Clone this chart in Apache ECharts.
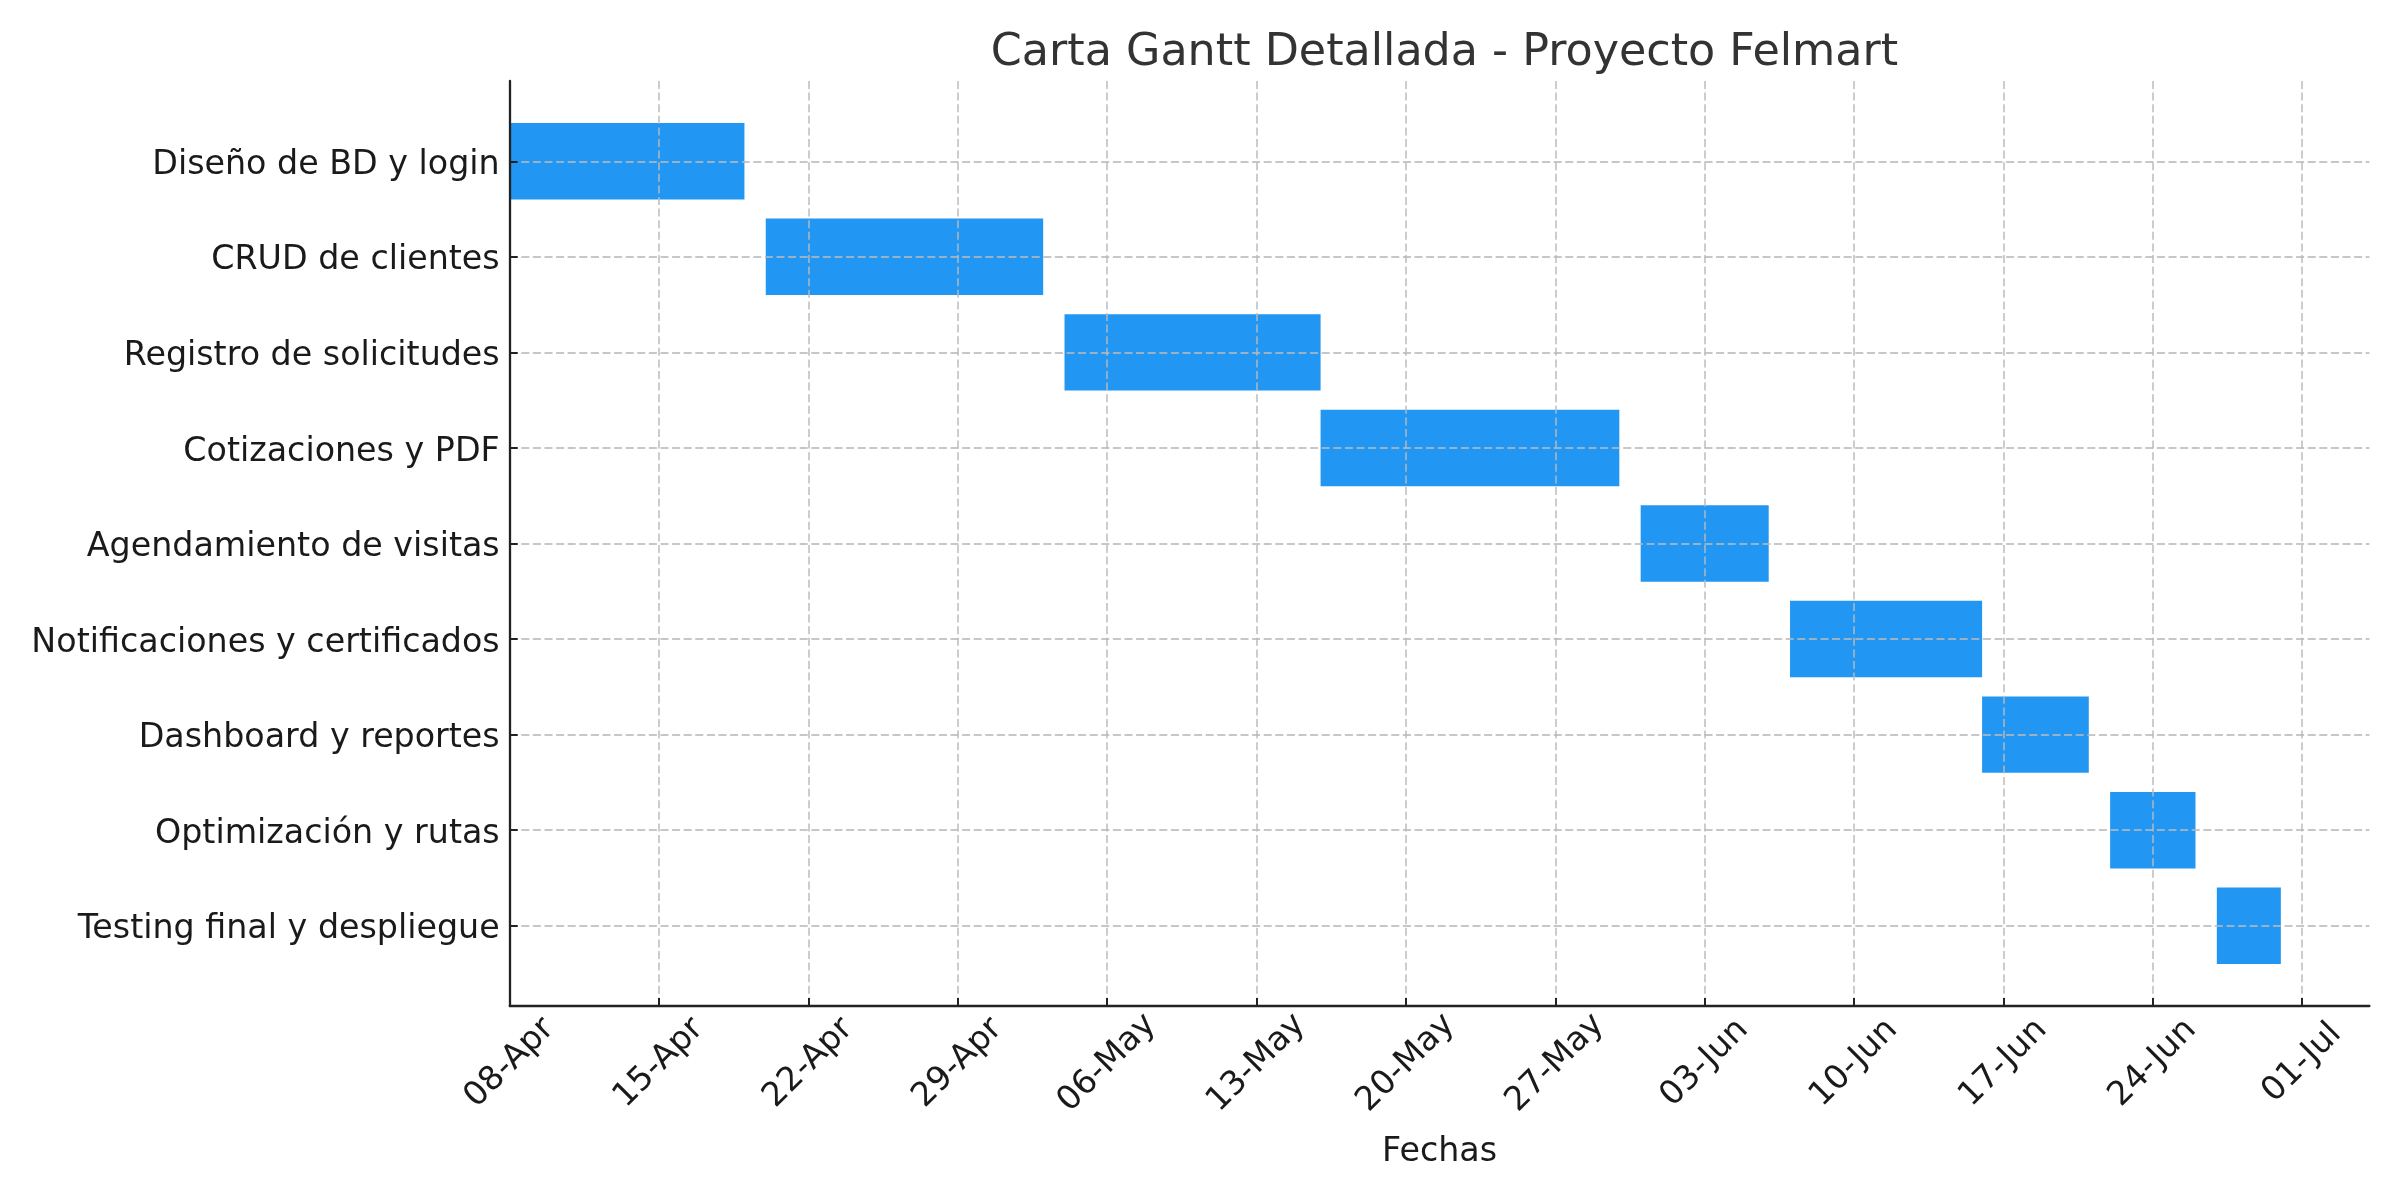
<!DOCTYPE html>
<html>
<head>
<meta charset="utf-8">
<script src="https://cdn.jsdelivr.net/npm/echarts@6/dist/echarts.min.js"></script>
<style>
html,body{margin:0;padding:0;background:#ffffff;}
#chart{width:2400px;height:1200px;}
</style>
</head>
<body>
<div id="chart"></div>
<script>
const chartTitle = 'Carta Gantt Detallada - Proyecto Felmart';
const xAxisTitle = 'Fechas';

const tasks = [
  'Diseño de BD y login',
  'CRUD de clientes',
  'Registro de solicitudes',
  'Cotizaciones y PDF',
  'Agendamiento de visitas',
  'Notificaciones y certificados',
  'Dashboard y reportes',
  'Optimización y rutas',
  'Testing final y despliegue'
];
const startDates = [
  '2025-04-08', '2025-04-20', '2025-05-04', '2025-05-16', '2025-05-31',
  '2025-06-07', '2025-06-16', '2025-06-22', '2025-06-27'
];
const endDates = [
  '2025-04-19', '2025-05-03', '2025-05-16', '2025-05-30', '2025-06-06',
  '2025-06-16', '2025-06-21', '2025-06-26', '2025-06-30'
];
const xTickDates = [
  '2025-04-08', '2025-04-15', '2025-04-22', '2025-04-29', '2025-05-06',
  '2025-05-13', '2025-05-20', '2025-05-27', '2025-06-03', '2025-06-10',
  '2025-06-17', '2025-06-24', '2025-07-01'
];
const xTickLabels = [
  '08-Apr', '15-Apr', '22-Apr', '29-Apr', '06-May', '13-May', '20-May',
  '27-May', '03-Jun', '10-Jun', '17-Jun', '24-Jun', '01-Jul'
];

const DAY = 86400000;
const t0 = Math.min(...startDates.map(d => Date.parse(d)));
const toDay = s => Math.round((Date.parse(s) - t0) / DAY);
const barData = tasks.map((t, i) => [toDay(startDates[i]), toDay(endDates[i]), i]);
const maxEnd = Math.max(...barData.map(d => d[1]));
const xMax = maxEnd + 0.05 * maxEnd;
const xTickVals = xTickDates.map(toDay);
const yIdx = tasks.map((t, i) => i);
const barH = 0.8;
const ySpan = (tasks.length - 1) + barH;
const yMin = -barH / 2 - 0.05 * ySpan;
const yMax = (tasks.length - 1) + barH / 2 + 0.05 * ySpan;

const FONT = 'DejaVu Sans';
const gridLine = { type: [8, 3.6], color: 'rgba(185,185,185,0.8)', width: 1.8 };

const chart = echarts.init(document.getElementById('chart'), null, { renderer: 'canvas' });
chart.setOption({
  animation: false,
  backgroundColor: '#ffffff',
  title: {
    text: chartTitle,
    left: 1439.5,
    top: 26,
    textAlign: 'center',
    textStyle: { fontFamily: FONT, fontSize: 44.4, fontWeight: 'normal', color: '#333333' }
  },
  grid: { left: 509.7, right: 30.6, top: 81, bottom: 194, containLabel: false },
  xAxis: {
    type: 'value',
    min: 0,
    max: xMax,
    interval: 7,
    z: 10,
    name: xAxisTitle,
    nameLocation: 'middle',
    nameGap: 146.7,
    nameTextStyle: { fontFamily: FONT, fontSize: 33.3, color: '#1a1a1a', verticalAlign: 'middle' },
    axisLine: { show: true, onZero: false, lineStyle: { color: '#222222', width: 2.3 } },
    axisTick: { show: true, inside: true, length: 8, customValues: xTickVals, lineStyle: { color: '#222222', width: 2 } },
    axisLabel: {
      customValues: xTickVals,
      rotate: 45,
      align: 'center',
      verticalAlign: 'middle',
      margin: 57,
      fontFamily: FONT,
      fontSize: 33.3,
      color: '#1a1a1a',
      formatter: v => { const i = xTickVals.indexOf(Math.round(v)); return i >= 0 ? xTickLabels[i] : ''; }
    },
    splitLine: { show: true, showMinLine: false, showMaxLine: true, lineStyle: gridLine }
  },
  yAxis: {
    type: 'value',
    inverse: true,
    min: yMin,
    max: yMax,
    z: 10,
    axisLine: { show: true, onZero: false, lineStyle: { color: '#222222', width: 2.3 } },
    axisTick: { show: true, inside: true, length: 8, customValues: yIdx, lineStyle: { color: '#222222', width: 2 } },
    axisLabel: {
      customValues: yIdx,
      margin: 10,
      verticalAlign: 'top',
      lineHeight: 8,
      fontFamily: FONT,
      fontSize: 33.3,
      color: '#1a1a1a',
      formatter: v => { const i = Math.round(v); return (Math.abs(v - i) < 1e-6 && tasks[i] !== undefined) ? tasks[i] : ''; }
    },
    splitLine: { show: true, showMinLine: true, showMaxLine: true, lineStyle: gridLine }
  },
  series: [{
    type: 'custom',
    z: 1,
    encode: { x: [0, 1], y: 2 },
    data: barData,
    renderItem: function (params, api) {
      const s = api.value(0), e = api.value(1), y = api.value(2);
      const p0 = api.coord([s, y]);
      const p1 = api.coord([e, y]);
      const h = api.size([0, barH])[1];
      return {
        type: 'rect',
        shape: { x: p0[0], y: p0[1] - h / 2, width: p1[0] - p0[0], height: h },
        style: { fill: '#2196F3' }
      };
    }
  }]
});
</script>
</body>
</html>
